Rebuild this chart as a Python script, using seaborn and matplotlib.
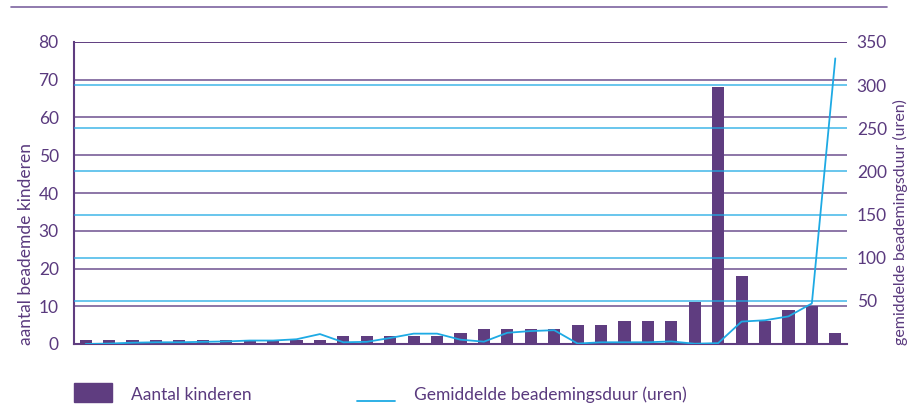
import numpy as np
import pandas as pd
import matplotlib
matplotlib.use("Agg")
import matplotlib.pyplot as plt
import seaborn as sns
from matplotlib.patches import Rectangle
from matplotlib.lines import Line2D

# ---- data ----
categories = list(range(1, 34))
aantal_kinderen = [1, 1, 1, 1, 1, 1, 1, 1, 1, 1, 1, 2, 2, 2, 2, 2, 3, 4, 4, 4, 4,
                   5, 5, 6, 6, 6, 11, 68, 18, 6, 9, 10, 3]
beademingsduur = [0, 0.5, 1.5, 2, 2, 2.5, 3, 4, 4, 5.5, 11.5, 2, 2.5, 7, 12, 12, 5,
                  2.7, 13, 15, 16, 0.5, 2, 2, 2, 3, 0.3, 1, 26, 27.5, 32, 47, 331]
left_ticks = [0, 10, 20, 30, 40, 50, 60, 70, 80]
right_ticks = [50, 100, 150, 200, 250, 300, 350]

label_left = "aantal beademde kinderen"
label_right = "gemiddelde beademingsduur (uren)"
legend_bar = "Aantal kinderen"
legend_line = "Gemiddelde beademingsduur (uren)"

PURPLE = "#5f3d80"
GRID_PURPLE = "#6e5190"
BLUE = "#1eaae4"
TEXT = "#5a3a7e"

sns.set_theme(style="white")
plt.rcParams["font.family"] = ["Lato", "DejaVu Sans"]

df = pd.DataFrame({"cat": categories, "n": aantal_kinderen,
                   "x": np.arange(len(categories)), "dur": beademingsduur})

fig = plt.figure(figsize=(9.08, 4.08), dpi=100)
ax = fig.add_axes([74 / 908, 64 / 408, 773 / 908, 302 / 408])

# purple gridlines (left axis)
for t in left_ticks[1:]:
    ax.axhline(t, color=GRID_PURPLE, lw=1.1, zorder=0)

sns.barplot(data=df, x="cat", y="n", color=PURPLE, width=0.52, saturation=1,
            linewidth=0, edgecolor="none", ax=ax, zorder=2)
ax.set_ylim(0, 80)
ax.set_xlim(-0.5, len(categories) - 0.5)
ax.set_yticks(left_ticks)
ax.set_xticks([])
ax.set_xlabel("")
ax.set_ylabel("")
ax.tick_params(axis="y", length=0, pad=11, labelsize=12.5, labelcolor=TEXT)
for s in ["top", "right"]:
    ax.spines[s].set_visible(False)
for s in ["left", "bottom"]:
    ax.spines[s].set_color(PURPLE)
    ax.spines[s].set_linewidth(1.5)

ax2 = ax.twinx()
ax2.set_ylim(0, 350)
for t in right_ticks[:-1]:
    ax2.axhline(t, color=BLUE, lw=1.1, alpha=0.85, zorder=1)
sns.lineplot(data=df, x="x", y="dur", color=BLUE, lw=1.3, ax=ax2, zorder=3)
ax2.set_xlim(-0.5, len(categories) - 0.5)
ax2.set_yticks(right_ticks)
ax2.set_ylabel("")
ax2.set_xlabel("")
ax2.tick_params(axis="y", length=0, pad=7, labelsize=12.5, labelcolor=TEXT)
for s in ["top", "right", "left", "bottom"]:
    ax2.spines[s].set_visible(False)
ax2.axhline(350, color=PURPLE, lw=1.3, zorder=1)

# axis labels (bottom aligned)
fig.text(26 / 908, 1 - 345 / 408, label_left, rotation=90, ha="center", va="bottom",
         fontsize=12.5, color=TEXT)
fig.text(900 / 908, 1 - 345 / 408, label_right, rotation=90, ha="center", va="bottom",
         fontsize=11.5, color=TEXT)

# decorative top rule
fig.add_artist(Line2D([11 / 908, 887 / 908], [1 - 7 / 408, 1 - 7 / 408],
                      color="#7d63a0", lw=1.2))

# legend
fig.add_artist(Rectangle((74 / 908, 1 - 402 / 408), 38 / 908, 19 / 408,
                         color=PURPLE, transform=fig.transFigure))
fig.text(131 / 908, 1 - 395 / 408, legend_bar, ha="left", va="center",
         fontsize=12.5, color=TEXT)
fig.add_artist(Line2D([357 / 908, 395 / 908], [1 - 401 / 408, 1 - 401 / 408],
                      color=BLUE, lw=1.3))
fig.text(414 / 908, 1 - 395 / 408, legend_line, ha="left", va="center",
         fontsize=12.5, color=TEXT)

fig.savefig("out.png", dpi=100)
